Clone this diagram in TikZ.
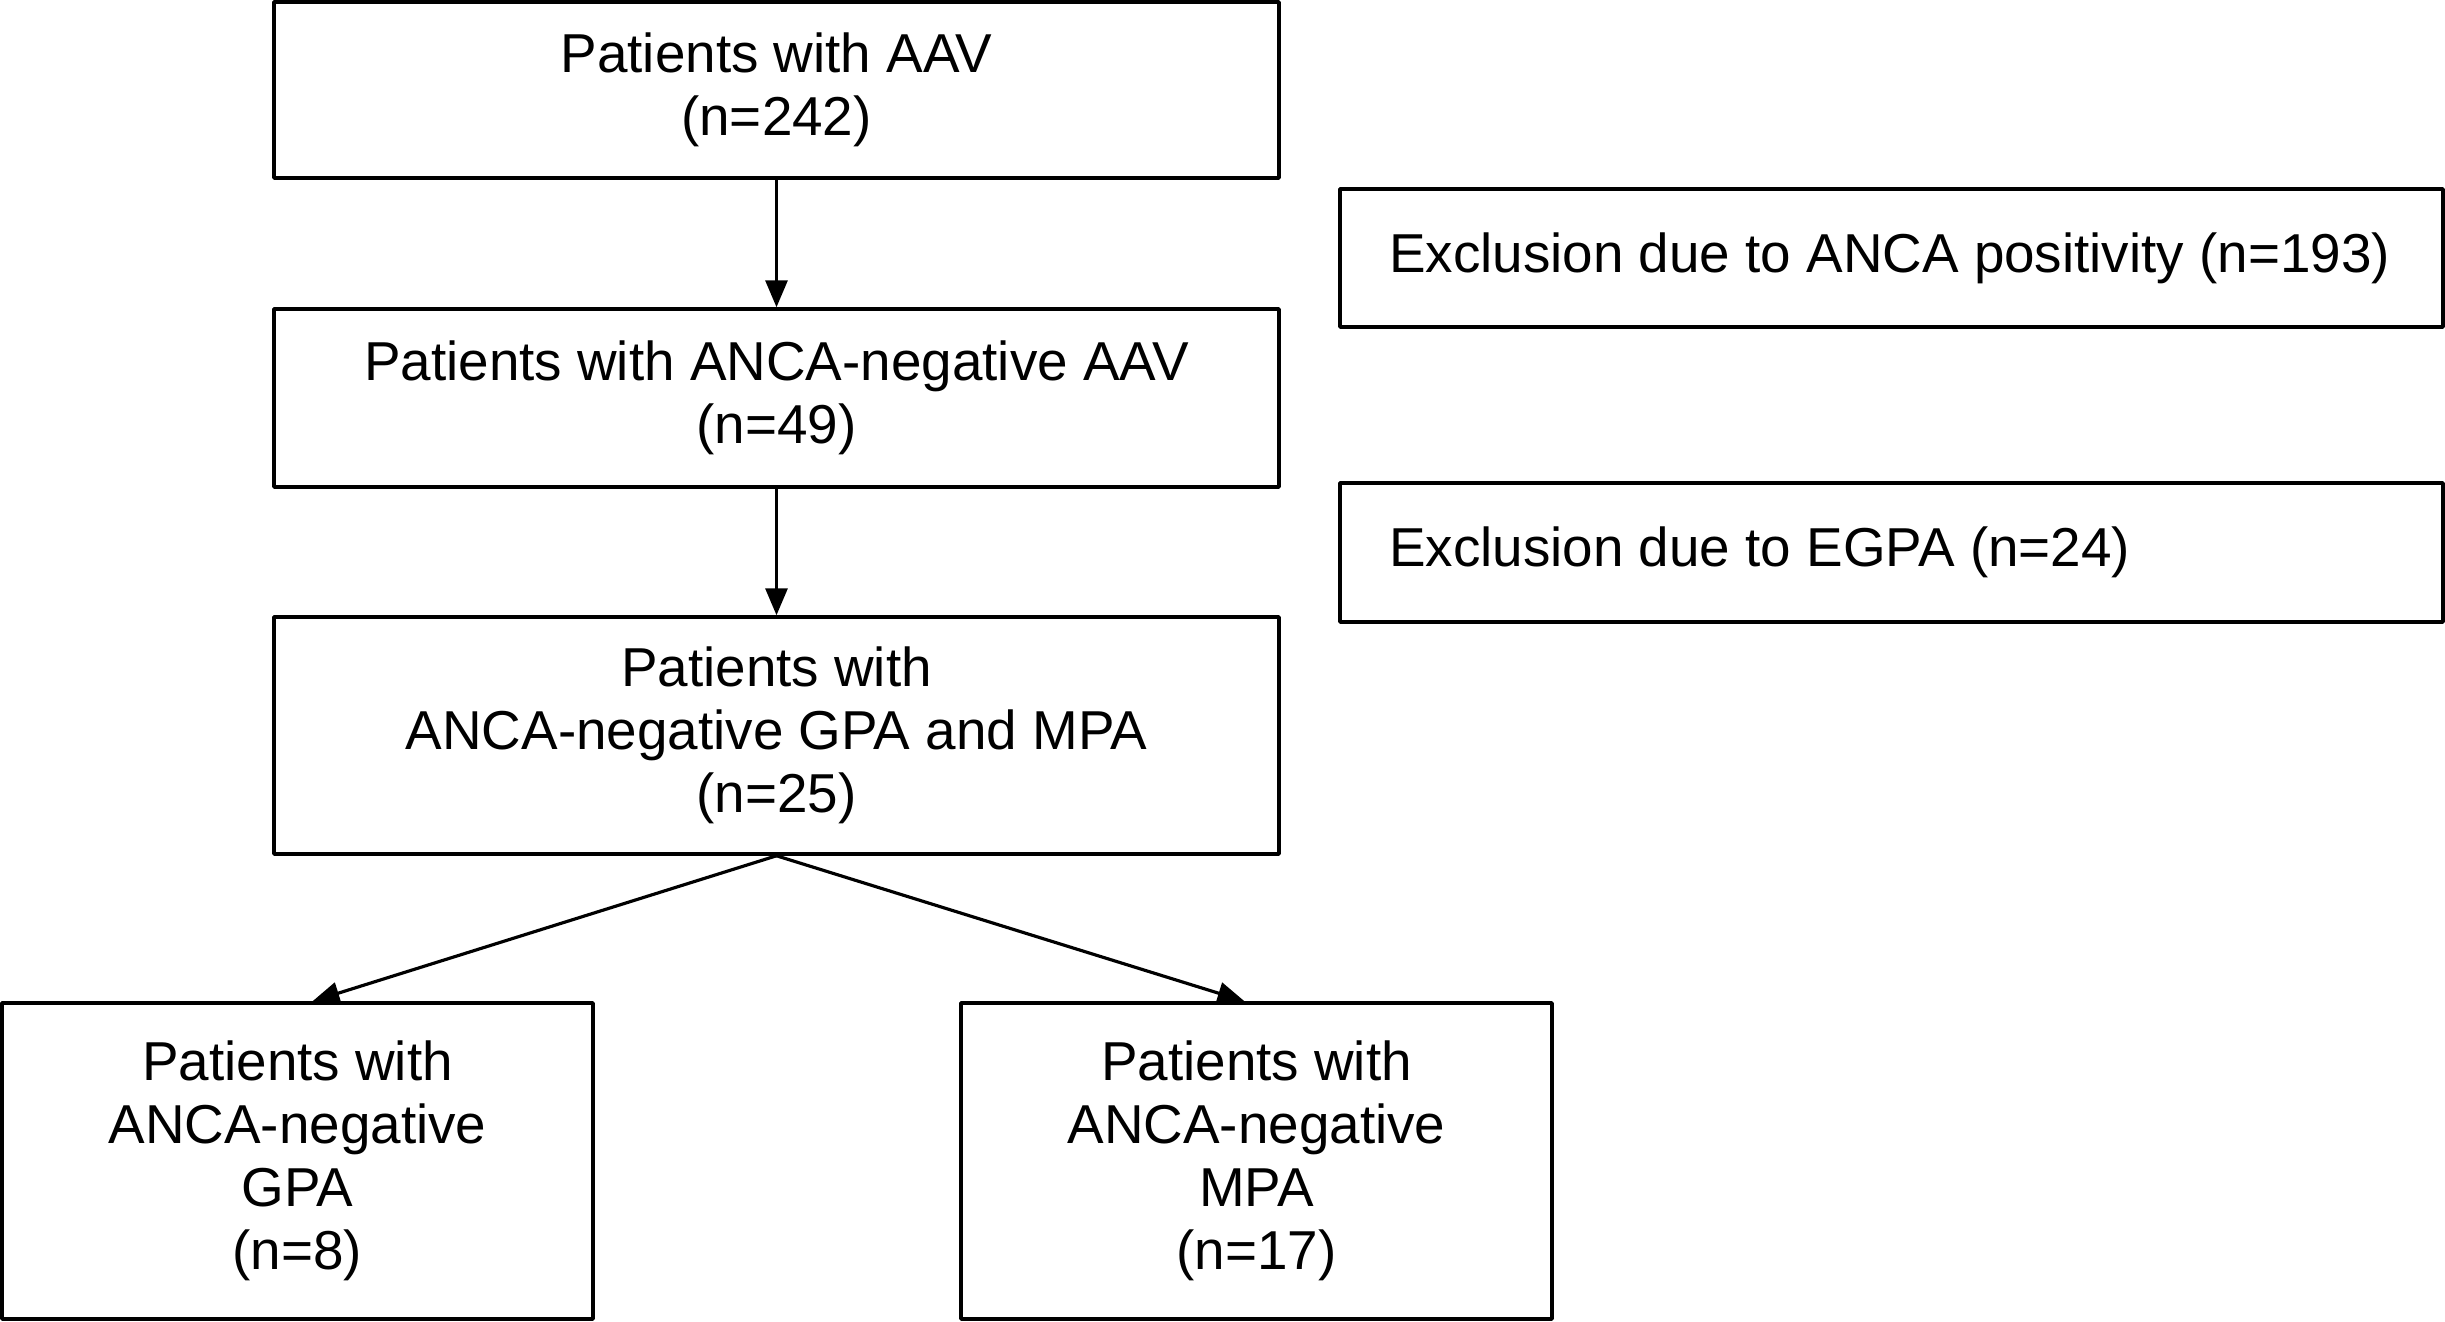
\documentclass[tikz,border=0pt]{standalone}
\usepackage{fontspec}
\setmainfont{Liberation Sans}
\usetikzlibrary{arrows.meta}

\begin{document}
\begin{tikzpicture}[join=round,
        box/.style={draw,line width=1pt,align=center,inner sep=0pt,font=\fontsize{15.6}{17.9}\selectfont},
        excl/.style={box,inner xsep=0.49cm,minimum width=11.03cm},
        arr/.style={-{Triangle[length=0.27cm,width=0.22cm]},line width=0.9pt}] % flow chart
        \useasboundingbox (0,0) rectangle (24.45,-13.21);
        \node[box,minimum width=10.05cm,minimum height=1.76cm] (aav) at (7.765,-0.90) {Patients with AAV\\(n=242)};
        \node[box,minimum width=10.05cm,minimum height=1.78cm] (neg) at (7.765,-3.98) {Patients with ANCA-negative AAV\\(n=49)};
        \node[box,minimum width=10.05cm,minimum height=2.37cm] (gm) at (7.765,-7.355) {Patients with\\ANCA-negative GPA and MPA\\(n=25)};
        \node[box,minimum width=5.91cm,minimum height=3.16cm] (gpa) at (2.975,-11.61) {Patients with\\ANCA-negative\\GPA\\(n=8)};
        \node[box,minimum width=5.91cm,minimum height=3.16cm] (mpa) at (12.565,-11.61) {Patients with\\ANCA-negative\\MPA\\(n=17)};
        \node[excl,minimum height=1.38cm] (exa) at (18.915,-2.58) {\makebox[10.05cm][l]{Exclusion due to ANCA positivity (n=193)}};
        \node[excl,minimum height=1.39cm] (exb) at (18.915,-5.525) {\makebox[10.05cm][l]{Exclusion due to EGPA (n=24)}};
        \draw[arr] (aav.south) -- (neg.north);
        \draw[arr] (neg.south) -- (gm.north);
        \draw[arr] (gm.south) -- ([xshift=0.15cm]gpa.north);
        \draw[arr] (gm.south) -- ([xshift=-0.12cm]mpa.north);
\end{tikzpicture}
\end{document}
